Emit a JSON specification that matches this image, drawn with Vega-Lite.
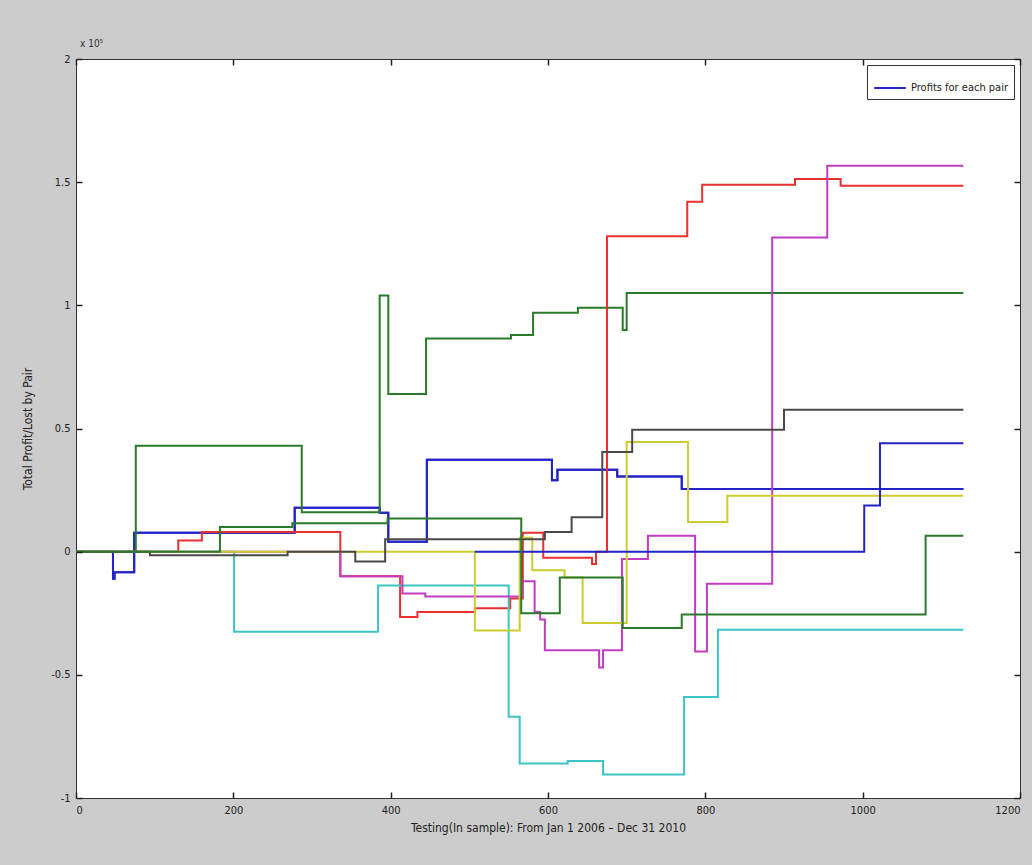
{
  "$schema": "https://vega.github.io/schema/vega-lite/v6.json",
  "width": 944,
  "height": 739,
  "autosize": {"type": "none"},
  "padding": {"left": 76, "top": 59, "right": 12, "bottom": 67},
  "background": "#cccccc",
  "title": {"text": "x 10⁵", "anchor": "start", "frame": "group", "offset": 4, "dx": 4, "fontSize": 10, "fontWeight": "normal", "font": "Liberation Sans Narrow, DejaVu Sans Condensed, sans-serif", "color": "#333333"},
  "config": {
    "view": {"fill": "white", "stroke": "#333333", "strokeWidth": 1},
    "axis": {
      "grid": false,
      "domain": false,
      "labelFont": "Liberation Sans Narrow, DejaVu Sans Condensed, sans-serif",
      "labelFontSize": 11,
      "labelColor": "#222222",
      "titleFont": "Liberation Sans Narrow, DejaVu Sans Condensed, sans-serif",
      "titleFontSize": 12,
      "titleFontWeight": "normal",
      "titleColor": "#222222"
    },
    "legend": {
      "strokeColor": "#333333",
      "fillColor": "white",
      "padding": 6,
      "labelFont": "Liberation Sans Narrow, DejaVu Sans Condensed, sans-serif",
      "labelFontSize": 11,
      "labelColor": "#222222",
      "symbolType": "stroke",
      "symbolSize": 1000,
      "symbolStrokeWidth": 2,
      "cornerRadius": 0
    }
  },
  "data": {
    "values": [
      {"pair": "p1", "x": 0, "y": 0},
      {"pair": "p1", "x": 47, "y": -0.11},
      {"pair": "p1", "x": 49, "y": -0.084},
      {"pair": "p1", "x": 74, "y": 0.077},
      {"pair": "p1", "x": 278, "y": 0.178},
      {"pair": "p1", "x": 386, "y": 0.158},
      {"pair": "p1", "x": 397, "y": 0.04},
      {"pair": "p1", "x": 446, "y": 0.373},
      {"pair": "p1", "x": 605, "y": 0.29},
      {"pair": "p1", "x": 612, "y": 0.333},
      {"pair": "p1", "x": 688, "y": 0.305},
      {"pair": "p1", "x": 770, "y": 0.254},
      {"pair": "p1", "x": 1128, "y": 0.254},

      {"pair": "p2", "x": 0, "y": 0},
      {"pair": "p2", "x": 76, "y": 0.43},
      {"pair": "p2", "x": 287, "y": 0.16},
      {"pair": "p2", "x": 386, "y": 1.04},
      {"pair": "p2", "x": 397, "y": 0.64},
      {"pair": "p2", "x": 445, "y": 0.865},
      {"pair": "p2", "x": 553, "y": 0.88},
      {"pair": "p2", "x": 581, "y": 0.97},
      {"pair": "p2", "x": 638, "y": 0.99},
      {"pair": "p2", "x": 695, "y": 0.9},
      {"pair": "p2", "x": 700, "y": 1.05},
      {"pair": "p2", "x": 1128, "y": 1.05},

      {"pair": "p3", "x": 0, "y": 0},
      {"pair": "p3", "x": 130, "y": 0.045},
      {"pair": "p3", "x": 160, "y": 0.08},
      {"pair": "p3", "x": 336, "y": -0.1},
      {"pair": "p3", "x": 412, "y": -0.265},
      {"pair": "p3", "x": 434, "y": -0.245},
      {"pair": "p3", "x": 507, "y": -0.23},
      {"pair": "p3", "x": 552, "y": -0.19},
      {"pair": "p3", "x": 568, "y": 0.077},
      {"pair": "p3", "x": 594, "y": -0.025},
      {"pair": "p3", "x": 656, "y": -0.05},
      {"pair": "p3", "x": 661, "y": 0},
      {"pair": "p3", "x": 675, "y": 1.28},
      {"pair": "p3", "x": 777, "y": 1.42},
      {"pair": "p3", "x": 796, "y": 1.49},
      {"pair": "p3", "x": 914, "y": 1.513},
      {"pair": "p3", "x": 972, "y": 1.485},
      {"pair": "p3", "x": 1128, "y": 1.485},

      {"pair": "p4", "x": 0, "y": 0},
      {"pair": "p4", "x": 201, "y": -0.325},
      {"pair": "p4", "x": 384, "y": -0.137},
      {"pair": "p4", "x": 550, "y": -0.67},
      {"pair": "p4", "x": 564, "y": -0.86},
      {"pair": "p4", "x": 625, "y": -0.85},
      {"pair": "p4", "x": 670, "y": -0.905},
      {"pair": "p4", "x": 773, "y": -0.59},
      {"pair": "p4", "x": 816, "y": -0.317},
      {"pair": "p4", "x": 1128, "y": -0.317},

      {"pair": "p5", "x": 0, "y": 0},
      {"pair": "p5", "x": 336, "y": -0.1},
      {"pair": "p5", "x": 415, "y": -0.17},
      {"pair": "p5", "x": 444, "y": -0.182},
      {"pair": "p5", "x": 567, "y": -0.12},
      {"pair": "p5", "x": 583, "y": -0.245},
      {"pair": "p5", "x": 590, "y": -0.275},
      {"pair": "p5", "x": 596, "y": -0.4},
      {"pair": "p5", "x": 665, "y": -0.47},
      {"pair": "p5", "x": 670, "y": -0.4},
      {"pair": "p5", "x": 694, "y": -0.03},
      {"pair": "p5", "x": 727, "y": 0.065},
      {"pair": "p5", "x": 787, "y": -0.405},
      {"pair": "p5", "x": 802, "y": -0.13},
      {"pair": "p5", "x": 885, "y": 1.275},
      {"pair": "p5", "x": 955, "y": 1.567},
      {"pair": "p5", "x": 1128, "y": 1.567},

      {"pair": "p6", "x": 0, "y": 0},
      {"pair": "p6", "x": 507, "y": -0.32},
      {"pair": "p6", "x": 564, "y": 0.057},
      {"pair": "p6", "x": 580, "y": -0.075},
      {"pair": "p6", "x": 621, "y": -0.105},
      {"pair": "p6", "x": 644, "y": -0.29},
      {"pair": "p6", "x": 700, "y": 0.445},
      {"pair": "p6", "x": 778, "y": 0.12},
      {"pair": "p6", "x": 828, "y": 0.227},
      {"pair": "p6", "x": 1128, "y": 0.227},

      {"pair": "p7", "x": 0, "y": 0},
      {"pair": "p7", "x": 94, "y": -0.015},
      {"pair": "p7", "x": 269, "y": 0},
      {"pair": "p7", "x": 355, "y": -0.04},
      {"pair": "p7", "x": 393, "y": 0.05},
      {"pair": "p7", "x": 596, "y": 0.08},
      {"pair": "p7", "x": 630, "y": 0.14},
      {"pair": "p7", "x": 669, "y": 0.405},
      {"pair": "p7", "x": 707, "y": 0.495},
      {"pair": "p7", "x": 900, "y": 0.576},
      {"pair": "p7", "x": 1128, "y": 0.576},

      {"pair": "p8", "x": 507, "y": 0},
      {"pair": "p8", "x": 1002, "y": 0.187},
      {"pair": "p8", "x": 1022, "y": 0.44},
      {"pair": "p8", "x": 1128, "y": 0.44},

      {"pair": "p9", "x": 0, "y": 0},
      {"pair": "p9", "x": 183, "y": 0.1},
      {"pair": "p9", "x": 275, "y": 0.115},
      {"pair": "p9", "x": 396, "y": 0.135},
      {"pair": "p9", "x": 566, "y": -0.25},
      {"pair": "p9", "x": 615, "y": -0.105},
      {"pair": "p9", "x": 695, "y": -0.31},
      {"pair": "p9", "x": 770, "y": -0.255},
      {"pair": "p9", "x": 1080, "y": 0.065},
      {"pair": "p9", "x": 1128, "y": 0.065}
    ]
  },
  "layer": [
    {
      "transform": [{"filter": "datum.pair === 'p1'"}],
      "mark": {"type": "line", "interpolate": "step-after", "strokeWidth": 2},
      "encoding": {
        "x": {"field": "x", "type": "quantitative", "scale": {"domain": [0, 1200], "nice": false, "zero": false},
              "axis": {"orient": "top", "offset": -6, "ticks": true, "tickSize": 6, "tickWidth": 1.5, "tickColor": "#222222", "zindex": 2, "labels": false, "title": null, "values": [0, 200, 400, 600, 800, 1000, 1200]}},
        "y": {"field": "y", "type": "quantitative", "scale": {"domain": [-1, 2], "nice": false, "zero": false},
              "axis": {"orient": "right", "offset": -6, "ticks": true, "tickSize": 6, "tickWidth": 1.5, "tickColor": "#222222", "zindex": 2, "labels": false, "title": null, "values": [-1, -0.5, 0, 0.5, 1, 1.5, 2]}},
        "stroke": {"datum": "Profits for each pair", "type": "nominal", "scale": {"range": ["#2323c8"]},
                   "legend": {"title": null, "orient": "top-right", "offset": 6}}
      }
    },
    {
      "mark": {"type": "line", "interpolate": "step-after", "strokeWidth": 2},
      "encoding": {
        "x": {"field": "x", "type": "quantitative",
              "axis": {"orient": "bottom", "offset": -6, "ticks": true, "tickSize": 6, "tickWidth": 1.5, "tickColor": "#222222", "zindex": 2, "labels": false, "title": null, "values": [0, 200, 400, 600, 800, 1000, 1200]}},
        "y": {"field": "y", "type": "quantitative",
              "axis": {"orient": "left", "offset": -6, "ticks": true, "tickSize": 6, "tickWidth": 1.5, "tickColor": "#222222", "zindex": 2, "labels": false, "title": null, "values": [-1, -0.5, 0, 0.5, 1, 1.5, 2]}},
        "color": {"field": "pair", "type": "nominal",
                  "scale": {"domain": ["p1", "p2", "p3", "p4", "p5", "p6", "p7", "p8", "p9"],
                            "range": ["#2323c8", "#2a7a2a", "#e83030", "#3cc4c4", "#c23cc2", "#cccc30", "#4a4a4a", "#2323c8", "#2a7a2a"]},
                  "legend": null}
      }
    },
    {
      "transform": [{"filter": "datum.pair === 'p9'"}],
      "mark": {"type": "line", "interpolate": "step-after", "strokeWidth": 2, "opacity": 0},
      "encoding": {
        "x": {"field": "x", "type": "quantitative",
              "axis": {"orient": "bottom", "values": [0, 200, 400, 600, 800, 1000, 1200], "format": "d", "ticks": false, "labelPadding": 6, "titlePadding": 7,
                       "title": "Testing(In sample): From Jan 1 2006 – Dec 31 2010"}},
        "y": {"field": "y", "type": "quantitative",
              "axis": {"orient": "left", "values": [-1, -0.5, 0, 0.5, 1, 1.5, 2], "ticks": false, "labelPadding": 6, "titlePadding": 16,
                       "labelExpr": "datum.value < 0 ? '-' + format(-datum.value, '') : format(datum.value, '')",
                       "title": "Total Profit/Lost by Pair"}},
        "color": {"field": "pair", "type": "nominal", "legend": null}
      }
    }
  ],
  "resolve": {"axis": {"x": "independent", "y": "independent"}}
}
